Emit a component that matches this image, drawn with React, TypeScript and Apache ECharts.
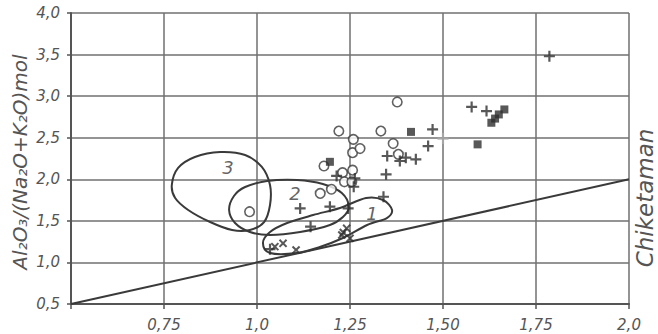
import React, { useEffect, useRef } from "react";
import * as echarts from "echarts";

const xTickLabels = ["", "0,75", "1,0", "1,25", "1,50", "1,75", "2,0"];
const yTickLabels = ["0,5", "1,0", "1,5", "2,0", "2,5", "3,0", "3,5", "4,0"];
const yAxisTitle = "Al₂O₃/(Na₂O+K₂O)mol";
const sideTitle = "Chiketaman";

const circles: number[][] = [
  [0.98, 1.61], [1.17, 1.83], [1.2, 1.88], [1.18, 2.16], [1.23, 2.08],
  [1.235, 1.97], [1.255, 1.97], [1.257, 2.11], [1.257, 2.32], [1.277, 2.37],
  [1.259, 2.48], [1.22, 2.58], [1.333, 2.58], [1.377, 2.93], [1.366, 2.43],
  [1.38, 2.3],
];
const squares: number[][] = [
  [1.196, 2.21], [1.414, 2.57], [1.593, 2.42], [1.665, 2.84], [1.65, 2.78],
  [1.64, 2.73], [1.63, 2.68],
];
const pluses: number[][] = [
  [1.786, 3.48], [1.577, 2.87], [1.617, 2.82], [1.472, 2.6], [1.46, 2.4],
  [1.35, 2.28], [1.384, 2.22], [1.4, 2.26], [1.427, 2.24], [1.347, 2.06],
  [1.34, 1.79], [1.214, 2.04], [1.263, 2.01], [1.26, 1.91], [1.196, 1.67],
  [1.116, 1.65], [1.245, 1.65], [1.144, 1.43], [1.035, 1.16],
];
const fadedPluses: number[][] = [[1.5, 2.49]];
const crosses: number[][] = [
  [1.048, 1.19], [1.07, 1.23], [1.105, 1.15], [1.241, 1.41], [1.228, 1.33],
  [1.25, 1.29], [1.232, 1.36],
];
const referenceLine: number[][] = [[0.5, 0.5], [2.0, 2.0]];

const region1: number[][] = [
  [1.016, 1.234], [1.035, 1.366], [1.081, 1.474], [1.151, 1.57], [1.223, 1.655],
  [1.293, 1.775], [1.339, 1.751], [1.363, 1.631], [1.349, 1.534], [1.296, 1.45],
  [1.231, 1.294], [1.169, 1.186], [1.108, 1.113], [1.035, 1.113],
];
const region2: number[][] = [
  [0.925, 1.631], [0.938, 1.799], [0.968, 1.907], [1.027, 1.979], [1.108, 1.991],
  [1.177, 1.943], [1.228, 1.835], [1.247, 1.667], [1.231, 1.546], [1.196, 1.45],
  [1.116, 1.366], [1.035, 1.33], [0.981, 1.366], [0.941, 1.474],
];
const region3: number[][] = [
  [0.771, 1.931], [0.788, 2.136], [0.833, 2.268], [0.901, 2.328], [0.968, 2.292],
  [1.013, 2.148], [1.035, 1.931], [1.035, 1.691], [1.019, 1.486], [0.981, 1.39],
  [0.933, 1.39], [0.874, 1.486], [0.815, 1.631], [0.78, 1.775],
];
const regions: number[][][] = [region1, region2, region3];
const regionLabels: { name: string; value: number[] }[] = [
  { name: "1", value: [1.309, 1.594] },
  { name: "2", value: [1.102, 1.835] },
  { name: "3", value: [0.922, 2.136] },
];

const INK = "#3a3a3a";
const GRID = "#707070";
const TEXT = "#555";
const FONT = "DejaVu Sans";

const plusPath =
  "path://M4,0 L6,0 L6,4 L10,4 L10,6 L6,6 L6,10 L4,10 L4,6 L0,6 L0,4 L4,4 Z";

// closed Catmull-Rom outline through pixel points, as SVG path data
function closedCurve(pts: number[][]): string {
  const n = pts.length;
  const f = (v: number) => v.toFixed(2);
  let d = `M${f(pts[0][0])},${f(pts[0][1])}`;
  for (let i = 0; i < n; i++) {
    const p0 = pts[(i - 1 + n) % n];
    const p1 = pts[i];
    const p2 = pts[(i + 1) % n];
    const p3 = pts[(i + 2) % n];
    const c1x = p1[0] + (p2[0] - p0[0]) / 6;
    const c1y = p1[1] + (p2[1] - p0[1]) / 6;
    const c2x = p2[0] - (p3[0] - p1[0]) / 6;
    const c2y = p2[1] - (p3[1] - p1[1]) / 6;
    d += ` C${f(c1x)},${f(c1y)} ${f(c2x)},${f(c2y)} ${f(p2[0])},${f(p2[1])}`;
  }
  return d + " Z";
}

export default function App() {
  const ref = useRef<HTMLDivElement>(null);
  useEffect(() => {
    if (!ref.current) return;
    const chart = echarts.init(ref.current, null, { renderer: "svg" });
    chart.setOption({
      animation: false,
      backgroundColor: "#ffffff",
      grid: { left: 71, top: 13, width: 558, height: 291, containLabel: false },
      xAxis: {
        type: "value",
        min: 0.5,
        max: 2.0,
        interval: 0.25,
        axisLine: { show: true, lineStyle: { color: "#555", width: 2 } },
        axisTick: { show: true, length: 5, lineStyle: { color: "#555", width: 1.5 } },
        axisLabel: {
          margin: 13,
          color: TEXT,
          fontSize: 15,
          fontStyle: "italic",
          fontFamily: FONT,
          formatter: (v: number) => xTickLabels[Math.round((v - 0.5) / 0.25)] ?? "",
        },
        splitLine: { show: true, lineStyle: { color: GRID, width: 1.5 } },
      },
      yAxis: {
        type: "value",
        min: 0.5,
        max: 4.0,
        interval: 0.5,
        axisLine: { show: true, lineStyle: { color: "#555", width: 2 } },
        axisTick: { show: true, length: 4, lineStyle: { color: "#555", width: 1.5 } },
        axisLabel: {
          margin: 11,
          color: TEXT,
          fontSize: 15,
          fontStyle: "italic",
          fontFamily: FONT,
          formatter: (v: number) => yTickLabels[Math.round((v - 0.5) / 0.5)] ?? "",
        },
        splitLine: { show: true, lineStyle: { color: GRID, width: 1.5 } },
      },
      graphic: [
        {
          type: "text",
          x: 20,
          y: 162,
          rotation: Math.PI / 2,
          style: {
            text: yAxisTitle,
            fill: TEXT,
            font: `italic 20px "${FONT}"`,
            align: "center",
            verticalAlign: "middle",
          },
        },
        {
          type: "text",
          x: 645,
          y: 198,
          rotation: Math.PI / 2,
          style: {
            text: sideTitle,
            fill: TEXT,
            font: `italic 23px "${FONT}"`,
            align: "center",
            verticalAlign: "middle",
          },
        },
      ],
      series: [
        {
          type: "line",
          data: referenceLine,
          symbol: "none",
          lineStyle: { color: INK, width: 2 },
          z: 3,
        },
        {
          type: "custom",
          data: regions.map((_, i) => [i]),
          encode: { x: -1, y: -1 },
          renderItem: (params: any, api: any) => {
            const pts = regions[params.dataIndex].map((p) => api.coord(p));
            return {
              type: "path",
              shape: { pathData: closedCurve(pts) },
              style: { fill: "none", stroke: INK, lineWidth: 2 },
            };
          },
          z: 3,
        },
        {
          type: "scatter",
          data: regionLabels,
          symbolSize: 0,
          label: {
            show: true,
            position: "inside",
            formatter: (p: any) => p.name,
            color: INK,
            fontSize: 18,
            fontStyle: "italic",
            fontFamily: FONT,
          },
          z: 4,
        },
        {
          type: "scatter",
          data: circles,
          symbol: "circle",
          symbolSize: 9.5,
          itemStyle: { color: "#fff", borderColor: INK, borderWidth: 1.6 },
          z: 5,
        },
        {
          type: "scatter",
          data: squares,
          symbol: "rect",
          symbolSize: 8,
          itemStyle: { color: "#2e2e2e" },
          z: 5,
        },
        {
          type: "scatter",
          data: pluses,
          symbol: plusPath,
          symbolSize: 11,
          itemStyle: { color: "#2e2e2e" },
          z: 5,
        },
        {
          type: "scatter",
          data: fadedPluses,
          symbol: plusPath,
          symbolSize: 11,
          itemStyle: { color: "#aaaaaa" },
          z: 5,
        },
        {
          type: "scatter",
          data: crosses,
          symbol: plusPath,
          symbolRotate: 45,
          symbolSize: 10,
          itemStyle: { color: "#2e2e2e" },
          z: 5,
        },
      ],
    });
    return () => chart.dispose();
  }, []);
  return (
    <div
      ref={ref}
      style={{ position: "fixed", left: 0, top: 0, width: 658, height: 334, background: "#fff" }}
    />
  );
}
